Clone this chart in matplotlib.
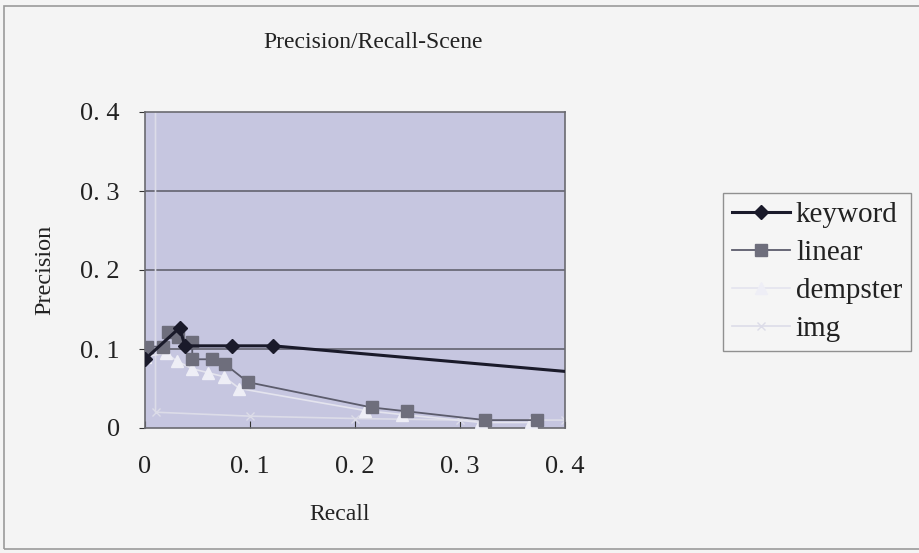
import matplotlib
matplotlib.use("Agg")
import matplotlib.pyplot as plt
from matplotlib.patches import Rectangle

# ---- data ----
keyword_x = [0.0, 0.033, 0.038, 0.083, 0.122, 0.5]
keyword_y = [0.087, 0.127, 0.104, 0.104, 0.104, 0.06]

linear_x = [0.002, 0.017, 0.022, 0.031, 0.045, 0.045, 0.064, 0.076, 0.098, 0.216, 0.25, 0.324, 0.373]
linear_y = [0.103, 0.103, 0.122, 0.115, 0.109, 0.087, 0.087, 0.081, 0.058, 0.026, 0.021, 0.010, 0.010]

dempster_x = [0.0, 0.02, 0.03, 0.045, 0.06, 0.075, 0.09, 0.21, 0.245, 0.32, 0.368]
dempster_y = [0.09, 0.095, 0.085, 0.075, 0.07, 0.065, 0.05, 0.022, 0.017, 0.007, 0.007]

img_x = [0.01, 0.01, 0.1, 0.2, 0.3, 0.4]
img_y = [0.5, 0.02, 0.015, 0.012, 0.01, 0.01]

x_ticks = [0, 0.1, 0.2, 0.3, 0.4]
x_tick_labels = ["0", "0. 1", "0. 2", "0. 3", "0. 4"]
y_ticks = [0, 0.1, 0.2, 0.3, 0.4]
y_tick_labels = ["0", "0. 1", "0. 2", "0. 3", "0. 4"]

title = "Precision/Recall-Scene"
xlabel = "Recall"
ylabel = "Precision"

FONT = ["Liberation Serif", "DejaVu Serif"]
plt.rcParams["font.family"] = FONT

fig = plt.figure(figsize=(9.2, 5.53), dpi=100)
fig.patch.set_facecolor("#f4f4f4")
fig.patches.append(Rectangle((0.004, 0.008), 1.2, 0.982, transform=fig.transFigure,
                             fill=False, edgecolor="#9a9a9a", linewidth=1.2))

ax = fig.add_axes([145 / 920, 1 - 428 / 553, 420 / 920, (428 - 112) / 553])
ax.set_facecolor("#c6c6e0")
ax.set_xlim(0, 0.4)
ax.set_ylim(0, 0.4)

for yv in [0.1, 0.2, 0.3]:
    ax.axhline(yv, color="#5a5a66", linewidth=1.1, zorder=1)

ax.plot(img_x, img_y, color="#dcdce8", linewidth=1.2, marker="x", markersize=6,
        markeredgecolor="#dcdce8", label="img", zorder=2)
ax.plot(dempster_x, dempster_y, color="#e4e4ee", linewidth=1.2, marker="^", markersize=8,
        markerfacecolor="#eeeef6", markeredgecolor="#eeeef6", label="dempster", zorder=3)
ax.plot(linear_x, linear_y, color="#5c5c6c", linewidth=1.3, marker="s", markersize=9,
        markerfacecolor="#6e6e7c", markeredgecolor="#6e6e7c", label="linear", zorder=4)
ax.plot(keyword_x, keyword_y, color="#1a1a2a", linewidth=2.2, marker="D", markersize=7,
        markerfacecolor="#1a1a2a", markeredgecolor="#1a1a2a", label="keyword", zorder=5)

for s in ax.spines.values():
    s.set_color("#6a6a70")
    s.set_linewidth(1.2)

ax.set_xticks(x_ticks)
ax.set_xticklabels(x_tick_labels)
ax.set_yticks(y_ticks)
ax.set_yticklabels(y_tick_labels)
ax.tick_params(axis="x", direction="in", length=5, color="#333333", labelsize=19,
               pad=20, labelcolor="#222222")
ax.tick_params(axis="y", direction="out", length=4, color="#333333", labelsize=19,
               pad=14, labelcolor="#222222")

fig.text(373 / 920, 1 - 42 / 553, title, ha="center", va="center", fontsize=17,
         color="#222222")
fig.text(340 / 920, 1 - 515 / 553, xlabel, ha="center", va="center", fontsize=17,
         color="#222222")
fig.text(45 / 920, 1 - 270 / 553, ylabel, ha="center", va="center", fontsize=17.5,
         rotation=90, color="#222222")

handles, labels = ax.get_legend_handles_labels()
order = ["keyword", "linear", "dempster", "img"]
hl = {l: h for h, l in zip(handles, labels)}
leg = fig.legend([hl[o] for o in order], order, loc="upper left",
                 bbox_to_anchor=(723 / 920, 1 - 193 / 553), fontsize=21,
                 frameon=True, fancybox=False, handlelength=2.0, handletextpad=0.2,
                 labelspacing=0.4, borderpad=0.3, borderaxespad=0)
leg.get_frame().set_edgecolor("#777777")
leg.get_frame().set_facecolor("#f6f6f6")
leg.get_frame().set_linewidth(1.0)
for t in leg.get_texts():
    t.set_color("#222222")

fig.savefig("out.png", dpi=100, facecolor=fig.get_facecolor())
